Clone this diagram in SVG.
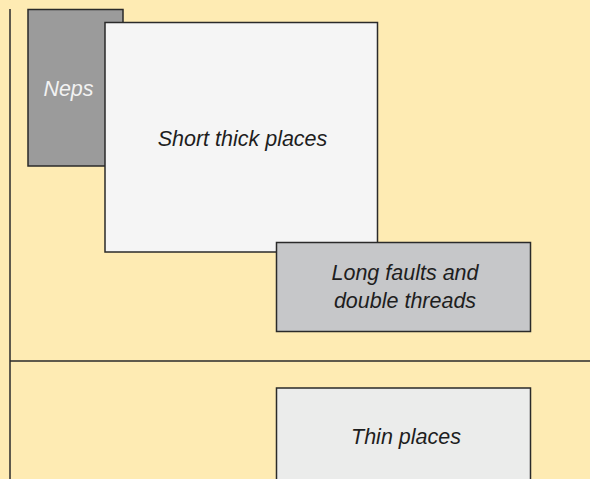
<svg xmlns="http://www.w3.org/2000/svg" width="590" height="479" viewBox="0 0 590 479">
<style>
.box{stroke:#2a2a2a;stroke-width:1.5}
.lbl{font-family:"Liberation Sans",Arial,sans-serif;font-style:italic;font-size:21.5px;fill:#1e1e1e;text-anchor:middle}
.axis{stroke:#2a2a2a;stroke-width:1.5;fill:none}
</style>
<rect width="590" height="479" fill="#feebb3"/>
<g id="axes">
<line class="axis" x1="10" y1="9" x2="10" y2="479"/>
<line class="axis" x1="10" y1="361" x2="590" y2="361"/>
</g>
<g id="neps">
<rect class="box" x="28" y="9.5" width="95" height="156.5" fill="#9b9b9b"/>
<text class="lbl" x="68.5" y="96" style="fill:#f2f2f2">Neps</text>
</g>
<g id="short-thick">
<rect class="box" x="105" y="22.5" width="272.5" height="229.5" fill="#f5f5f5"/>
<text class="lbl" x="242.5" y="146">Short thick places</text>
</g>
<g id="long-faults">
<rect class="box" x="276.5" y="242.5" width="254" height="89" fill="#c6c7c9"/>
<text class="lbl" x="405" y="280">Long faults and</text>
<text class="lbl" x="405" y="308">double threads</text>
</g>
<g id="thin">
<rect class="box" x="276.5" y="388" width="254" height="100" fill="#ebeceb"/>
<text class="lbl" x="406" y="444">Thin places</text>
</g>
</svg>
